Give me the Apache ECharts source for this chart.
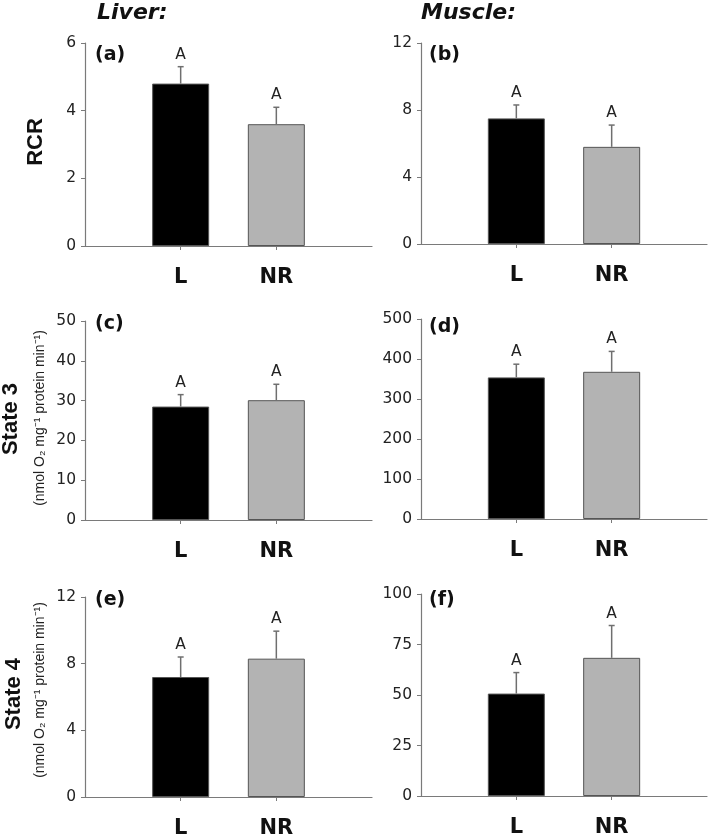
<!DOCTYPE html>
<html>
<head>
<meta charset="utf-8">
<script src="https://cdn.jsdelivr.net/npm/echarts@6/dist/echarts.min.js"></script>
<style>html,body{margin:0;padding:0;background:#fff}#chart{width:709px;height:838px}</style>
</head>
<body>
<div id="chart"></div>
<script>
// ---- data ----
const groups = ['L', 'NR'];
const panelLetters = ['(a)', '(b)', '(c)', '(d)', '(e)', '(f)'];
const columnTitles = ['Liver:', 'Muscle:'];
const rowTitles = ['RCR', 'State 3', 'State 4'];
const unitText = '(nmol O\u2082 mg\u207B\u00B9 protein min\u207B\u00B9)';

const rcrLiverMean = [4.8, 3.6];
const rcrLiverSE = [0.5, 0.5];
const rcrMuscleMean = [7.5, 5.8];
const rcrMuscleSE = [0.8, 1.3];
const st3LiverMean = [28.5, 30.1];
const st3LiverSE = [3.0, 4.0];
const st3MuscleMean = [354, 368];
const st3MuscleSE = [33, 51];
const st4LiverMean = [7.2, 8.3];
const st4LiverSE = [1.2, 1.65];
const st4MuscleMean = [50.7, 68.4];
const st4MuscleSE = [10.4, 16.0];
const sigLetters = [['A', 'A'], ['A', 'A'], ['A', 'A'], ['A', 'A'], ['A', 'A'], ['A', 'A']];

const yMax = [6, 12, 50, 500, 12, 100];
const yStep = [2, 4, 10, 100, 4, 25];

const means = [rcrLiverMean, rcrMuscleMean, st3LiverMean, st3MuscleMean, st4LiverMean, st4MuscleMean];
const ses = [rcrLiverSE, rcrMuscleSE, st3LiverSE, st3MuscleSE, st4LiverSE, st4MuscleSE];

// ---- layout ----
const gridRects = [
  {left: 85, top: 43, width: 287, height: 203},
  {left: 421, top: 43, width: 286, height: 201},
  {left: 85, top: 321, width: 287, height: 199},
  {left: 421, top: 319, width: 286, height: 200},
  {left: 85, top: 597, width: 287, height: 200},
  {left: 421, top: 594, width: 286, height: 202}
];
const letterPos = [[95, 55], [429, 55], [95, 324], [429, 327], [95, 600], [429, 600]];

const AX = '#7a7a7a';
const tickFont = 'DejaVu Sans';
const axisData = [''].concat(groups, ['']);

const grids = [], xAxes = [], yAxes = [], series = [];
for (let i = 0; i < 6; i++) {
  grids.push(Object.assign({outerBoundsMode: 'none', containLabel: false}, gridRects[i]));
  xAxes.push({
    type: 'category', gridIndex: i, data: axisData, boundaryGap: false,
    axisLine: {lineStyle: {color: AX, width: 1.2}},
    axisTick: {length: 4, lineStyle: {color: AX}, interval: (idx, v) => v !== ''},
    axisLabel: {interval: (idx, v) => v !== '', margin: 21, fontFamily: 'DejaVu Sans', fontWeight: 'bold', fontSize: 21, color: '#111'},
    splitLine: {show: false}
  });
  yAxes.push({
    type: 'value', gridIndex: i, min: 0, max: yMax[i], interval: yStep[i],
    axisLine: {show: true, lineStyle: {color: AX, width: 1.2}},
    axisTick: {show: true, length: 4, lineStyle: {color: AX}},
    axisLabel: {margin: 9, fontFamily: tickFont, fontSize: 15.5, color: '#222'},
    splitLine: {show: false}
  });
  const m = means[i], s = ses[i];
  series.push({
    type: 'bar', xAxisIndex: i, yAxisIndex: i, barWidth: 57, z: 2,
    data: ['-'].concat(m, ['-']),
    itemStyle: {
      color: p => (p.dataIndex === 1 ? '#000000' : '#b3b3b3'),
      borderColor: '#555', borderWidth: 1
    },
    silent: true
  });
  const sig = sigLetters[i];
  series.push({
    type: 'custom', xAxisIndex: i, yAxisIndex: i, z: 5, silent: true,
    data: m.map((v, k) => [k + 1, v, s[k]]),
    renderItem: (params, api) => {
      const x = api.value(0), mean = api.value(1), se = api.value(2);
      const b = api.coord([x, mean]);
      const t = api.coord([x, mean + se]);
      const st = {stroke: '#6f6f6f', lineWidth: 1.5};
      return {type: 'group', children: [
        {type: 'line', shape: {x1: b[0], y1: b[1], x2: t[0], y2: t[1]}, style: st},
        {type: 'line', shape: {x1: t[0] - 3, y1: t[1], x2: t[0] + 3, y2: t[1]}, style: st},
        {type: 'text', x: t[0], y: t[1] - 4, style: {text: sig[params.dataIndex], textAlign: 'center', textVerticalAlign: 'bottom', font: '15.5px "DejaVu Sans"', fill: '#222'}}
      ]};
    }
  });
}

const graphics = [];
graphics.push({type: 'text', left: 97, top: 2, style: {text: columnTitles[0], font: 'italic bold 22px "DejaVu Sans"', fill: '#111'}});
graphics.push({type: 'text', left: 421, top: 2, style: {text: columnTitles[1], font: 'italic bold 22px "DejaVu Sans"', fill: '#111'}});
for (let i = 0; i < 6; i++) {
  graphics.push({type: 'text', x: letterPos[i][0], y: letterPos[i][1], style: {text: panelLetters[i], font: 'bold 19px "DejaVu Sans"', fill: '#111', textVerticalAlign: 'middle'}});
}
// row titles (rotated)
graphics.push({type: 'text', x: 36, y: 142, rotation: Math.PI / 2, style: {text: rowTitles[0], font: 'bold 22px "Liberation Sans"', fill: '#111', textAlign: 'center', textVerticalAlign: 'middle'}});
graphics.push({type: 'text', x: 11, y: 419, rotation: Math.PI / 2, style: {text: rowTitles[1], font: 'bold 22px "Liberation Sans"', fill: '#111', textAlign: 'center', textVerticalAlign: 'middle'}});
graphics.push({type: 'text', x: 40, y: 418, rotation: Math.PI / 2, style: {text: unitText, font: '14px "Liberation Sans"', fill: '#222', textAlign: 'center', textVerticalAlign: 'middle'}});
graphics.push({type: 'text', x: 14, y: 694, rotation: Math.PI / 2, style: {text: rowTitles[2], font: 'bold 22px "Liberation Sans"', fill: '#111', textAlign: 'center', textVerticalAlign: 'middle'}});
graphics.push({type: 'text', x: 40, y: 690, rotation: Math.PI / 2, style: {text: unitText, font: '14px "Liberation Sans"', fill: '#222', textAlign: 'center', textVerticalAlign: 'middle'}});

const chart = echarts.init(document.getElementById('chart'), null, {renderer: 'canvas'});
chart.setOption({
  animation: false,
  backgroundColor: '#ffffff',
  grid: grids,
  xAxis: xAxes,
  yAxis: yAxes,
  series: series,
  graphic: graphics
});
</script>
</body>
</html>
